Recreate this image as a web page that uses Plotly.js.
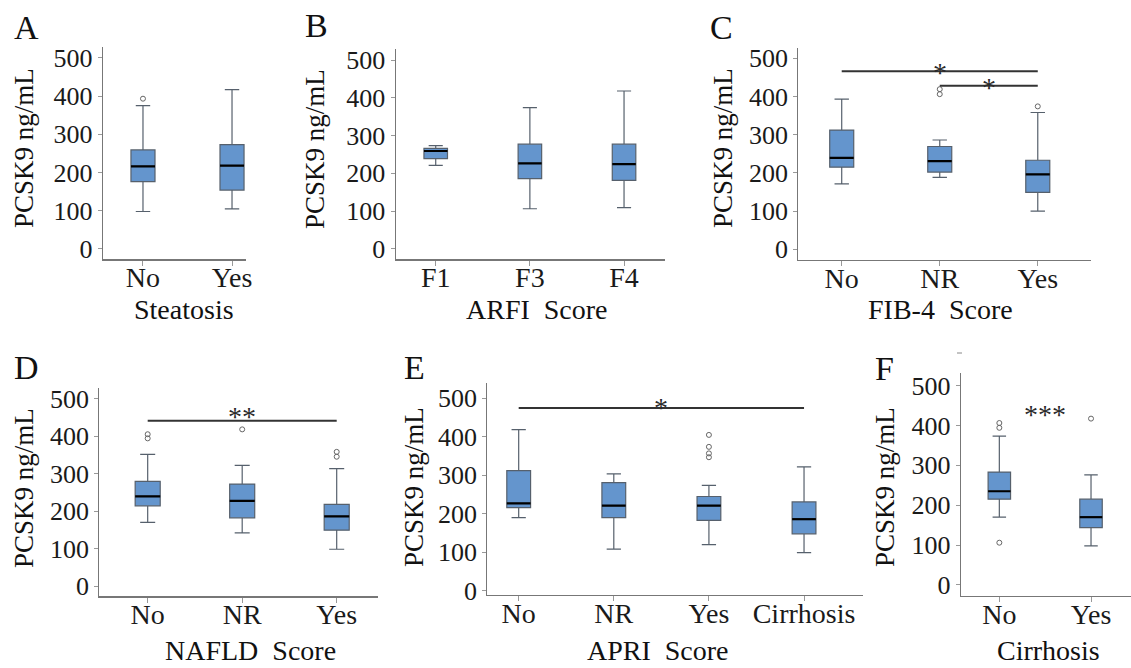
<!DOCTYPE html>
<html><head><meta charset="utf-8">
<script src="https://cdn.plot.ly/plotly-3.0.1.min.js"></script>
<style>html,body{margin:0;padding:0;background:#fff}</style>
</head><body><div id="chart" style="width:1131px;height:668px"></div>
<script>
// ---------- DATA ----------
// A: Steatosis
const catsA=['No','Yes'];
const q1A=[176,154], medA=[216,218], q3A=[259,273], loA=[98,105], hiA=[375,417];
const outA=[[393],[]];
const sigFromA=[], sigToA=[], sigLineYA=[], sigStarYA=[], sigTextA=[], sigLineA=[];
// B: ARFI Score
const catsB=['F1','F3','F4'];
const q1B=[239,186,181], medB=[259,226,224], q3B=[266,277,277], loB=[221,106,109], hiB=[273,374,418];
const outB=[[],[],[]];
const sigFromB=[], sigToB=[], sigLineYB=[], sigStarYB=[], sigTextB=[], sigLineB=[];
// C: FIB-4 Score
const catsC=['No','NR','Yes'];
const q1C=[215,202,149], medC=[239,231,196], q3C=[312,269,233], loC=[171,188,100], hiC=[393,286,358];
const outC=[[],[419,406],[374]];
const sigFromC=[0,1], sigToC=[2,2], sigLineYC=[466,428], sigStarYC=[478,439], sigTextC=['*','*'], sigLineC=[true,true];
// D: NAFLD Score
const catsD=['No','NR','Yes'];
const q1D=[214,182,149], medD=[239,227,186], q3D=[279,272,218], loD=[170,142,98], hiD=[351,322,313];
const outD=[[405,394],[418],[358,345]];
const sigFromD=[0], sigToD=[2], sigLineYD=[441], sigStarYD=[468], sigTextD=['**'], sigLineD=[true];
// E: APRI Score
const catsE=['No','NR','Yes','Cirrhosis'];
const q1E=[216,190,183,148], medE=[227,221,221,186], q3E=[312,281,245,231], loE=[190,108,120,99], hiE=[419,304,274,322];
const outE=[[],[],[405,374,357,347],[]];
const sigFromE=[0], sigToE=[3], sigLineYE=[475], sigStarYE=[492], sigTextE=['*'], sigLineE=[true];
// F: Cirrhosis
const catsF=['No','Yes'];
const q1F=[215,144], medF=[235,170], q3F=[283,215], loF=[170,98], hiF=[373,276];
const outF=[[406,394,106],[417]];
const sigFromF=[0], sigToF=[1], sigLineYF=[442], sigStarYF=[442], sigTextF=['***'], sigLineF=[false];

const letters=['A','B','C','D','E','F'];
const xTitles=['Steatosis','ARFI\u00a0 Score','FIB-4\u00a0 Score','NAFLD\u00a0 Score','APRI\u00a0 Score','Cirrhosis'];
const yTitle='PCSK9 ng/mL';
const yTicks=[0,100,200,300,400,500];

// ---------- LAYOUT ----------
const W=1131,H=668;
const px=v=>v/W, py=v=>1-v/H;
const serif='Liberation Serif, Times New Roman, serif';

const panels=[
 {cats:catsA,q1:q1A,med:medA,q3:q3A,lo:loA,hi:hiA,out:outA,sf:sigFromA,st:sigToA,sly:sigLineYA,ssy:sigStarYA,stx:sigTextA,sl:sigLineA,
  dom:[103,246,46.7,259.3],xr:[-0.449,1.157],yr:[-27,529],bw:0.27,let:[27,27],yt:[24,148],xt:[184,310]},
 {cats:catsB,q1:q1B,med:medB,q3:q3B,lo:loB,hi:hiB,out:outB,sf:sigFromB,st:sigToB,sly:sigLineYB,ssy:sigStarYB,stx:sigTextB,sl:sigLineB,
  dom:[395.7,665,49.3,259.3],xr:[-0.425,2.435],yr:[-28,528.5],bw:0.25,let:[316,25],yt:[315,149],xt:[537,310]},
 {cats:catsC,q1:q1C,med:medC,q3:q3C,lo:loC,hi:hiC,out:outC,sf:sigFromC,st:sigToC,sly:sigLineYC,ssy:sigStarYC,stx:sigTextC,sl:sigLineC,
  dom:[798.3,1090.7,48.3,260],xr:[-0.443,2.54],yr:[-28,526],bw:0.245,let:[721,27],yt:[723,148],xt:[940,310]},
 {cats:catsD,q1:q1D,med:medD,q3:q3D,lo:loD,hi:hiD,out:outD,sf:sigFromD,st:sigToD,sly:sigLineYD,ssy:sigStarYD,stx:sigTextD,sl:sigLineD,
  dom:[99.3,378,388.3,596.3],xr:[-0.512,2.437],yr:[-27.5,527.6],bw:0.265,let:[27,367],yt:[24,488],xt:[250,650]},
 {cats:catsE,q1:q1E,med:medE,q3:q3E,lo:loE,hi:hiE,out:outE,sf:sigFromE,st:sigToE,sly:sigLineYE,ssy:sigStarYE,stx:sigTextE,sl:sigLineE,
  dom:[487.3,863,382.7,595],xr:[-0.33,3.62],yr:[-11,540.7],bw:0.25,let:[414,367],yt:[414,487],xt:[658,650]},
 {cats:catsF,q1:q1F,med:medF,q3:q3F,lo:loF,hi:hiF,out:outF,sf:sigFromF,st:sigToF,sly:sigLineYF,ssy:sigStarYF,stx:sigTextF,sl:sigLineF,
  dom:[961,1131,373.3,596],xr:[-0.418,1.436],yr:[-27.6,530.6],bw:0.245,let:[884,368],yt:[885,487],xt:[1048,650]}
];

const traces=[], annotations=[], shapes=[];
const layout={width:W,height:H,margin:{l:0,r:0,t:0,b:0},paper_bgcolor:'#fff',plot_bgcolor:'#fff',showlegend:false,
  font:{family:serif,color:'#1a1a1a'}};

panels.forEach((p,k)=>{
  const ax=k===0?'':String(k+1);
  const xa='x'+ax, ya='y'+ax;
  const xs=p.cats.map((c,i)=>i);
  traces.push({type:'box',xaxis:xa,yaxis:ya,x:xs,q1:p.q1,median:p.med,q3:p.q3,lowerfence:p.lo,upperfence:p.hi,
    width:p.bw,whiskerwidth:0.6,fillcolor:'#6495cd',line:{color:'#56606c',width:1.2},boxpoints:false,hoverinfo:'skip'});
  const mx=[],my=[];
  p.med.forEach((m,i)=>{mx.push(i-p.bw/2,i+p.bw/2,null);my.push(m,m,null);});
  traces.push({type:'scatter',mode:'lines',xaxis:xa,yaxis:ya,x:mx,y:my,line:{color:'#000',width:2.2},hoverinfo:'skip'});
  const ox=[],oy=[];
  p.out.forEach((arr,i)=>arr.forEach(v=>{ox.push(i);oy.push(v);}));
  if(ox.length) traces.push({type:'scatter',mode:'markers',xaxis:xa,yaxis:ya,x:ox,y:oy,
    marker:{symbol:'circle-open',size:5,color:'#666',line:{width:1}},hoverinfo:'skip'});
  layout['xaxis'+ax]={domain:[px(p.dom[0]),px(p.dom[1])],range:p.xr,anchor:ya,tickmode:'array',tickvals:xs,ticktext:p.cats,
    ticks:'outside',ticklen:5,tickwidth:1,tickcolor:'#999',showline:true,linecolor:'#777',linewidth:1.2,ticklabelstandoff:-12,
    showgrid:false,zeroline:false,tickfont:{family:serif,size:28,color:'#1a1a1a'},fixedrange:true};
  layout['yaxis'+ax]={domain:[py(p.dom[3]),py(p.dom[2])],range:p.yr,anchor:xa,tickmode:'array',tickvals:yTicks,
    ticks:'outside',ticklen:4,tickwidth:1,tickcolor:'#999',showline:true,linecolor:'#777',linewidth:1.2,
    showgrid:false,zeroline:false,tickfont:{family:serif,size:26,color:'#1a1a1a'},fixedrange:true};
  // significance
  p.sf.forEach((f,j)=>{
    if(p.sl[j]) shapes.push({type:'line',xref:xa,yref:ya,x0:f,x1:p.st[j],y0:p.sly[j],y1:p.sly[j],line:{color:'#333',width:2}});
    annotations.push({xref:xa,yref:ya,x:(f+p.st[j])/2,y:p.ssy[j],text:p.stx[j],showarrow:false,xanchor:'center',yanchor:'middle',
      yshift:-6,font:{family:serif,size:28,color:'#2a2a2a'}});
  });
  annotations.push({xref:'paper',yref:'paper',x:px(p.let[0]),y:py(p.let[1]),text:letters[k],showarrow:false,
    xanchor:'center',yanchor:'middle',font:{family:serif,size:34,color:'#111'}});
  annotations.push({xref:'paper',yref:'paper',x:px(p.yt[0]),y:py(p.yt[1]),text:yTitle,textangle:-90,showarrow:false,
    xanchor:'center',yanchor:'middle',font:{family:serif,size:27,color:'#111'}});
  annotations.push({xref:'paper',yref:'paper',x:px(p.xt[0]),y:py(p.xt[1]),text:xTitles[k],showarrow:false,
    xanchor:'center',yanchor:'middle',font:{family:serif,size:28,color:'#111'}});
});
shapes.push({type:'line',xref:'paper',yref:'paper',x0:px(957),x1:px(962),y0:py(353),y1:py(353),line:{color:'#888',width:1}});
layout.annotations=annotations;
layout.shapes=shapes;

Plotly.newPlot('chart',traces,layout,{staticPlot:true,displayModeBar:false});
</script></body></html>
